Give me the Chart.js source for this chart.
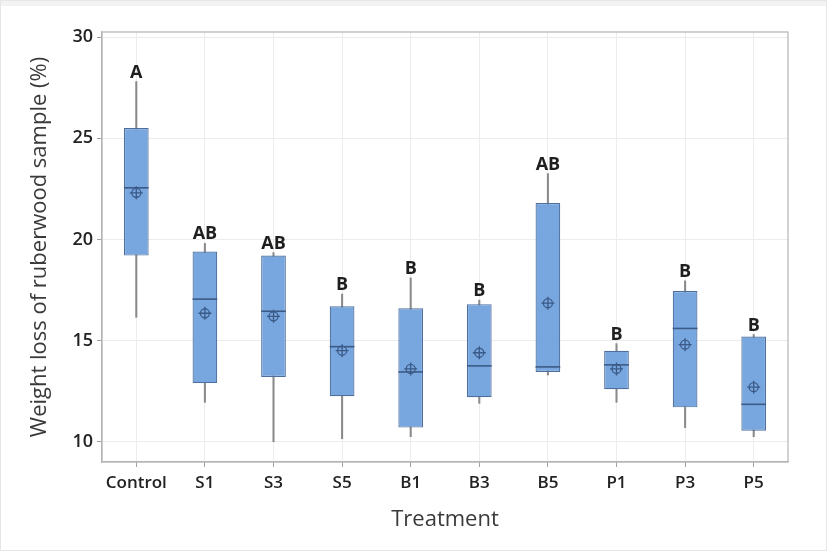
<!DOCTYPE html>
<html>
<head>
<meta charset="utf-8">
<script src="https://cdn.jsdelivr.net/npm/chart.js@4.4.1/dist/chart.umd.min.js"></script>
<style>
  html, body { margin: 0; padding: 0; background: #ffffff; }
  #wrap { width: 827px; height: 551px; position: relative; }
  canvas { display: block; }
</style>
</head>
<body>
<div id="wrap"><canvas id="c" width="827" height="551"></canvas></div>
<script>
// ---- Data ----
const categories   = ['Control', 'S1', 'S3', 'S5', 'B1', 'B3', 'B5', 'P1', 'P3', 'P5'];
const whiskerLow   = [16.15, 11.95, 10.0, 10.15, 10.25, 11.9, 13.3, 11.95, 10.7, 10.25];
const q1           = [19.2, 12.9, 13.2, 12.25, 10.7, 12.2, 13.45, 12.6, 11.7, 10.55];
const median       = [22.55, 17.05, 16.45, 14.7, 13.45, 13.75, 13.7, 13.8, 15.6, 11.85];
const q3           = [25.5, 19.4, 19.2, 16.7, 16.6, 16.8, 21.8, 14.5, 17.45, 15.2];
const whiskerHigh  = [27.8, 19.8, 19.35, 17.3, 18.1, 17.0, 23.25, 14.85, 17.95, 15.3];
const means        = [22.3, 16.35, 16.2, 14.5, 13.6, 14.4, 16.85, 13.6, 14.8, 12.7];
const groupLetters = ['A', 'AB', 'AB', 'B', 'B', 'B', 'AB', 'B', 'B', 'B'];
const yTicks       = [10, 15, 20, 25, 30];

const whiskerData = categories.map((_, i) => [whiskerLow[i], whiskerHigh[i]]);
const boxData     = categories.map((_, i) => [q1[i], q3[i]]);

const boxColor = '#78a7e0';
const boxBorder = '#4e6f9e';
const markColor = '#3b5a86';
const FONT = '"Open Sans", "Noto Sans", sans-serif';

const boxExtras = {
  id: 'boxExtras',
  beforeDraw(chart) {
    const ctx = chart.ctx;
    ctx.save();
    ctx.fillStyle = '#ffffff';
    ctx.fillRect(0, 0, chart.width, chart.height);
    ctx.fillStyle = '#f3f3f3';
    ctx.fillRect(0, 0, chart.width, 6);
    ctx.strokeStyle = '#e6e6e6';
    ctx.lineWidth = 1;
    ctx.strokeRect(0.5, 0.5, chart.width - 1, chart.height - 1);
    ctx.restore();
  },
  afterDatasetsDraw(chart) {
    const ctx = chart.ctx;
    const ys = chart.scales.y;
    const meta = chart.getDatasetMeta(1);
    ctx.save();
    meta.data.forEach((el, i) => {
      const x = el.x;
      const half = el.width / 2;
      // median line
      const ym = ys.getPixelForValue(median[i]);
      ctx.strokeStyle = markColor;
      ctx.lineWidth = 1.6;
      ctx.beginPath();
      ctx.moveTo(x - half, ym);
      ctx.lineTo(x + half, ym);
      ctx.stroke();
      // mean symbol (circle with cross)
      const yMean = ys.getPixelForValue(means[i]);
      ctx.lineWidth = 1.3;
      ctx.beginPath();
      ctx.arc(x, yMean, 4.5, 0, Math.PI * 2);
      ctx.stroke();
      ctx.beginPath();
      ctx.moveTo(x - 6.5, yMean); ctx.lineTo(x + 6.5, yMean);
      ctx.moveTo(x, yMean - 6.5); ctx.lineTo(x, yMean + 6.5);
      ctx.stroke();
      // group letter
      const yTop = ys.getPixelForValue(whiskerHigh[i]);
      ctx.fillStyle = '#1e1e1e';
      ctx.font = 'bold 18px ' + FONT;
      ctx.textAlign = 'center';
      ctx.textBaseline = 'alphabetic';
      ctx.fillText(groupLetters[i], x, yTop - 4);
    });
    // plot frame
    const a = chart.chartArea;
    ctx.strokeStyle = '#b4b4b4';
    ctx.lineWidth = 1.2;
    ctx.strokeRect(a.left, a.top, a.right - a.left, a.bottom - a.top);
    ctx.restore();
  }
};

new Chart(document.getElementById('c'), {
  type: 'bar',
  data: {
    labels: categories,
    datasets: [
      {
        label: 'Whiskers',
        data: whiskerData,
        backgroundColor: '#8a8a8a',
        borderWidth: 0,
        barThickness: 1.4,
        grouped: false,
        order: 2
      },
      {
        label: 'Box',
        data: boxData,
        backgroundColor: boxColor,
        borderColor: boxBorder,
        borderWidth: 1.2,
        borderSkipped: false,
        barPercentage: 0.36,
        categoryPercentage: 1.0,
        grouped: false,
        order: 1
      }
    ]
  },
  options: {
    responsive: false,
    animation: false,
    devicePixelRatio: 1,
    layout: { padding: { left: 27, right: 39, top: 32, bottom: 18 } },
    plugins: {
      legend: { display: false },
      tooltip: { enabled: false }
    },
    scales: {
      x: {
        offset: true,
        grid: { offset: false, color: '#ececec', tickColor: '#a0a0a0', tickLength: 5, lineWidth: 1 },
        border: { color: '#b4b4b4', width: 1.2 },
        ticks: {
          color: '#222222',
          padding: 6,
          maxRotation: 0,
          minRotation: 0,
          autoSkip: false,
          font: { family: FONT, size: 17, weight: '600' }
        },
        title: {
          display: true,
          text: 'Treatment',
          color: '#3a3a3a',
          padding: { top: 0, bottom: 0 },
          font: { family: FONT, size: 22 }
        },
        afterFit(scale) { scale.height = 551 - 462 - 18; }
      },
      y: {
        min: 9.0,
        max: 30.25,
        afterBuildTicks(scale) { scale.ticks = yTicks.map(v => ({ value: v })); },
        grid: { color: '#ececec', tickColor: '#a0a0a0', tickLength: 5, lineWidth: 1 },
        border: { color: '#b4b4b4', width: 1.2 },
        ticks: {
          color: '#222222',
          padding: 4,
          font: { family: FONT, size: 18, weight: '600' }
        },
        title: {
          display: true,
          text: 'Weight loss of ruberwood sample (%)',
          color: '#3a3a3a',
          padding: { top: 0, bottom: 0 },
          font: { family: FONT, size: 22 }
        },
        afterFit(scale) { scale.width = 102 - 27; }
      }
    }
  },
  plugins: [boxExtras]
});
</script>
</body>
</html>
